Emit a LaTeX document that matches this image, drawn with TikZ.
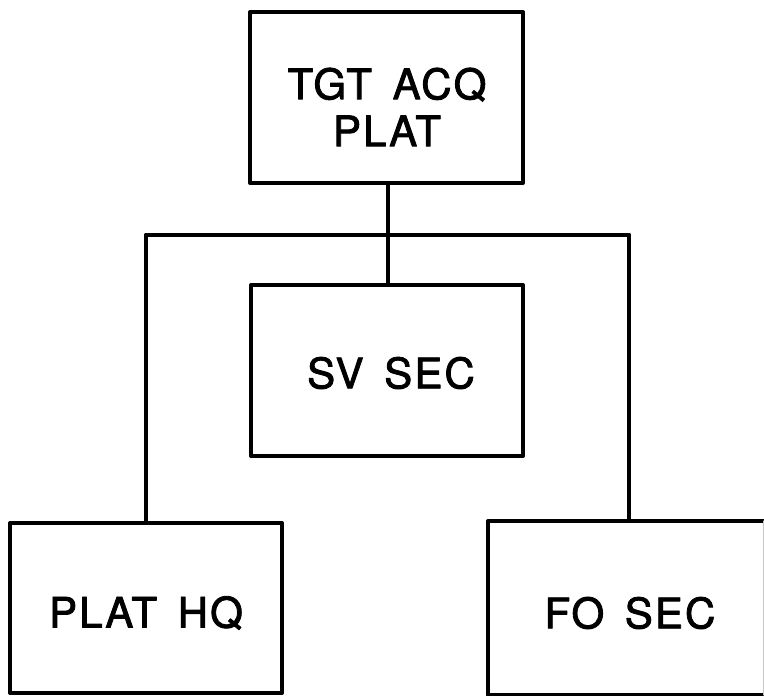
\documentclass[tikz,border=0pt]{standalone}
\usepackage{fontspec}
\setmainfont{TeX Gyre Heros}
\newfontfamily\lblfont{TeX Gyre Heros}[LetterSpace=5, WordSpace=1.5, FakeBold=2]
\begin{document}
\begin{tikzpicture}[x=1pt,y=-1pt,
  line width=4pt, line join=round, line cap=round,
  boxshape/.style={draw, rectangle, inner sep=0pt, line width=4pt},
  lbl/.style={font=\lblfont\fontsize{42}{47}\selectfont, align=center, inner sep=0pt}]
\useasboundingbox (0,0) rectangle (764,696);
% boxes
\node[boxshape, minimum width=273pt, minimum height=171pt] (top) at (386.5,97.5) {};
\node[boxshape, minimum width=272pt, minimum height=171pt] (sv) at (387,370.5) {};
\node[boxshape, minimum width=272pt, minimum height=170pt] (hq) at (146,608) {};
\node[minimum width=272pt, minimum height=170pt, inner sep=0pt] (fo) at (626,608) {};
\draw (fo.north east) -- (fo.north west) -- (fo.south west) -- (fo.south east);
\draw[line width=1.2pt, gray!45] (fo.north east) -- (fo.south east);
% labels
\node[lbl] (tl) at (387,107) {TGT ACQ\\PLAT};
\node[lbl] (sl) at (391,373) {SV SEC};
\node[lbl] (hl) at (146,613) {PLAT HQ};
\node[lbl] (fl) at (630,613) {FO SEC};
% connectors
\coordinate (jn) at (388,235);
\coordinate (jl) at (146,235);
\coordinate (jr) at (629,235);
\draw (top.south -| jn) -- (sv.north -| jn);
\draw (jl) -- (jr);
\draw (jl) -- (hq.north -| jl);
\draw (jr) -- (fo.north -| jr);
\end{tikzpicture}
\end{document}
